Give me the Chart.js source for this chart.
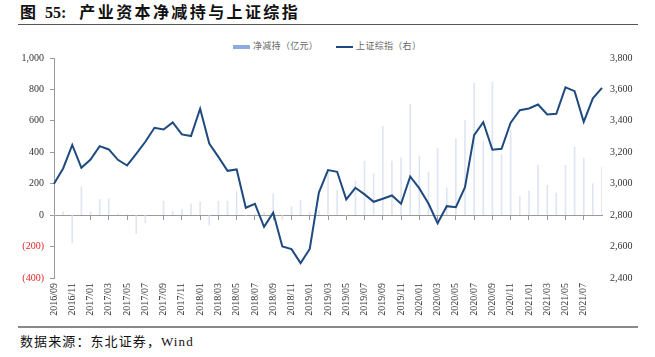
<!DOCTYPE html>
<html>
<head>
<meta charset="utf-8">
<script src="https://cdn.jsdelivr.net/npm/chart.js@4.4.1/dist/chart.umd.min.js"></script>
<style>
  html, body { margin: 0; padding: 0; background: #fff; }
  body { width: 655px; height: 357px; position: relative; overflow: hidden; }
  #title { position: absolute; left: 20px; top: 2px; font-family: "Liberation Serif", "Noto Sans CJK SC", serif; font-weight: 700; font-size: 16px; color: #111; white-space: nowrap; line-height: 22px; }
  #title .a { margin-right: 9px; }
  #title .b { margin-right: 13px; }
  #title .c { letter-spacing: 2.4px; }
  .rule { position: absolute; left: 18px; width: 620px; background: #555; }
  #rule1 { top: 24px; height: 1px; }
  #rule2 { top: 326px; height: 2px; background: #888; }
  #legend { position: absolute; top: 39px; left: 233px; font-family: "Noto Sans CJK SC", sans-serif; font-size: 9px; color: #666; white-space: nowrap; line-height: 14px; letter-spacing: 0.3px; }
  #legend .sw { display: inline-block; vertical-align: middle; }
  #footer { position: absolute; left: 20px; top: 333px; font-family: "Liberation Serif", "Noto Sans CJK SC", serif; font-size: 13px; letter-spacing: 1.1px; color: #111; white-space: nowrap; line-height: 18px; }
  #wrap { position: absolute; left: 0; top: 44px; width: 655px; height: 282px; }
</style>
</head>
<body>
<div id="title"><span class="a">图</span><span class="b">55:</span><span class="c">产业资本净减持与上证综指</span></div>
<div class="rule" id="rule1"></div>
<div id="legend"><span class="sw" style="width:17px;height:4px;background:#8faadc;margin-right:3px;"></span>净减持（亿元）<span class="sw" style="width:17px;height:2px;background:#1f4a7f;margin-left:18px;margin-right:3px;"></span>上证综指（右）</div>
<div id="wrap"><canvas id="c" width="655" height="282"></canvas></div>
<div class="rule" id="rule2"></div>
<div id="footer">数据来源：东北证券，Wind</div>
<script>
const months = [
  '2016/09','2016/10','2016/11','2016/12',
  '2017/01','2017/02','2017/03','2017/04','2017/05','2017/06','2017/07','2017/08','2017/09','2017/10','2017/11','2017/12',
  '2018/01','2018/02','2018/03','2018/04','2018/05','2018/06','2018/07','2018/08','2018/09','2018/10','2018/11','2018/12',
  '2019/01','2019/02','2019/03','2019/04','2019/05','2019/06','2019/07','2019/08','2019/09','2019/10','2019/11','2019/12',
  '2020/01','2020/02','2020/03','2020/04','2020/05','2020/06','2020/07','2020/08','2020/09','2020/10','2020/11','2020/12',
  '2021/01','2021/02','2021/03','2021/04','2021/05','2021/06','2021/07','2021/08','2021/09'
];
const netReduction = [
  0, 21, -176, 180,
  21, 100, 106, 8, 3, -116, -49, 2, 89, 25, 36, 72,
  85, -64, 89, 89, 148, 0, 5, 20, 136, -28, 53, 94,
  19, 30, 285, 160, 0, 216, 344, 263, 566, 344, 365, 704,
  375, 275, 426, 174, 484, 604, 840, 470, 848, 386, 540, 117,
  153, 318, 191, 141, 318, 433, 363, 199, 305
];
const shIndex = [
  3000, 3097, 3247, 3101,
  3154, 3239, 3218, 3152, 3116, 3190, 3267, 3356, 3345, 3390, 3314, 3303,
  3477, 3256, 3171, 3082, 3091, 2847, 2872, 2726, 2815, 2601, 2584, 2495,
  2585, 2944, 3087, 3076, 2900, 2974, 2932, 2885, 2904, 2925, 2872, 3046,
  2970, 2874, 2749, 2857, 2851, 2978, 3309, 3392, 3216, 3222, 3388, 3468,
  3479, 3504, 3441, 3445, 3613, 3589, 3394, 3543, 3610
];
const lastLabel = '2021/07';
const leftTicks = { min: -400, max: 1000, step: 200 };
const rightTicks = { min: 2400, max: 3800, step: 200 };

const tickFont = { family: 'Liberation Serif', size: 10 };
const fmt = v => Math.abs(v).toLocaleString('en-US');
const lastIdx = months.indexOf(lastLabel);

new Chart(document.getElementById('c'), {
  data: {
    labels: months,
    datasets: [
      {
        type: 'line', label: '上证综指（右）', data: shIndex, yAxisID: 'y1', xAxisID: 'x',
        borderColor: '#1f4a7f', borderWidth: 2, pointRadius: 0, tension: 0, order: 0
      },
      {
        type: 'bar', label: '净减持（亿元）', data: netReduction, yAxisID: 'y', xAxisID: 'x',
        backgroundColor: '#dfe5f2', barThickness: 1, order: 1
      }
    ]
  },
  options: {
    responsive: false,
    animation: false,
    layout: { padding: { top: 7, left: 0, right: 0, bottom: 0 } },
    plugins: { legend: { display: false }, tooltip: { enabled: false } },
    scales: {
      x: {
        type: 'category', position: 'bottom', offset: false,
        grid: { display: false, drawTicks: false },
        border: { display: false },
        ticks: {
          autoSkip: false, maxRotation: 90, minRotation: 90, padding: 5,
          font: tickFont, color: '#333',
          callback: function (v, i) { return (i % 2 === 0 && i <= lastIdx) ? months[i] : ''; }
        },
        afterFit: s => { s.height = 48; }
      },
      x2: {
        type: 'category', position: { y: 0 }, offset: false,
        grid: {
          drawOnChartArea: false, drawTicks: true, tickLength: 4,
          color: c => (c.index % 2 === 0 && c.index <= lastIdx ? '#9a9a9a' : 'rgba(0,0,0,0)')
        },
        border: { display: true, color: '#9a9a9a', width: 1 },
        ticks: { display: false, autoSkip: false }
      },
      y: {
        position: 'left', min: leftTicks.min, max: leftTicks.max,
        grid: { drawOnChartArea: false, drawTicks: true, tickLength: 4, color: '#9a9a9a' },
        border: { display: true, color: '#9a9a9a', width: 1 },
        ticks: {
          stepSize: leftTicks.step, padding: 6, font: tickFont,
          color: c => (c.tick && c.tick.value < 0 ? '#e8262b' : '#333'),
          callback: v => (v < 0 ? '(' + fmt(v) + ')' : fmt(v))
        },
        afterFit: s => { s.width = 54; }
      },
      y1: {
        position: 'right', min: rightTicks.min, max: rightTicks.max,
        grid: { display: false, drawTicks: false },
        border: { display: false },
        ticks: { stepSize: rightTicks.step, padding: 8, font: tickFont, color: '#333', callback: v => fmt(v) },
        afterFit: s => { s.width = 53; }
      }
    }
  }
});
</script>
</body>
</html>
